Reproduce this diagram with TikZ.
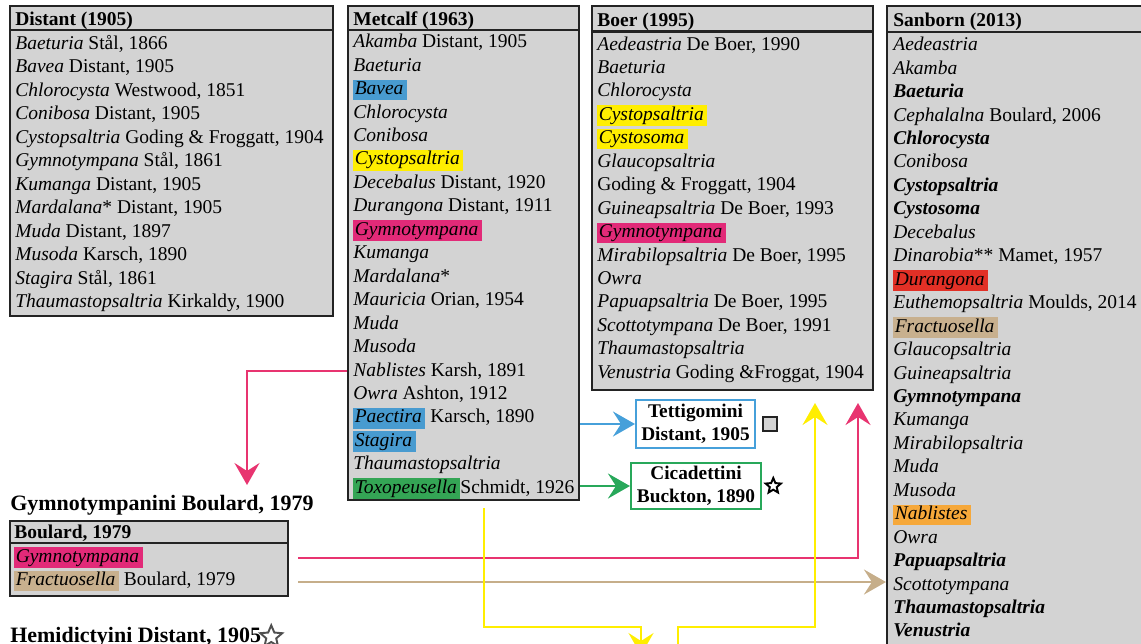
\documentclass[tikz,border=0pt]{standalone}
\usepackage{fontspec}
\setmainfont{Liberation Serif}
\usetikzlibrary{positioning, fit, arrows.meta, shapes.geometric}

\definecolor{cellgray}{RGB}{211,211,211}
\definecolor{frameink}{RGB}{35,35,35}
\definecolor{hlBlue}{RGB}{72,155,208}
\definecolor{hlYellow}{RGB}{255,238,0}
\definecolor{hlPink}{RGB}{226,42,120}
\definecolor{hlGreen}{RGB}{52,165,85}
\definecolor{hlRed}{RGB}{226,48,38}
\definecolor{hlTan}{RGB}{200,176,142}
\definecolor{hlOrange}{RGB}{246,168,58}
\definecolor{lineBlue}{RGB}{70,160,218}
\definecolor{lineGreen}{RGB}{40,168,90}
\definecolor{linePink}{RGB}{232,52,112}
\definecolor{lineTan}{RGB}{198,174,138}
\definecolor{lineYellow}{RGB}{255,238,0}

\newcommand{\hiLite}[2]{{\setlength{\fboxsep}{0.8pt}\colorbox{#1}{\vphantom{Cyl}#2\hspace{1.2pt}}}}

\tikzset{
	tablebox/.style = {draw=frameink, fill=cellgray, line width=1.2pt, inner sep=0pt},
	rule/.style = {draw=frameink, line width=1.2pt},
	entry/.style = {anchor=base west, inner sep=0pt, font=\fontsize{11.1}{13}\selectfont},
	headline/.style = {entry, font=\fontsize{11.1}{13}\selectfont\bfseries},
	tribename/.style = {anchor=base west, inner sep=0pt, font=\fontsize{12.5}{15}\selectfont\bfseries},
	tribe/.style = {draw, line width=1.2pt, fill=white, align=center, inner sep=0pt, font=\fontsize{11}{13}\selectfont\bfseries},
	starmark/.style = {star, star points=5, star point ratio=2.2, draw=black, line width=1.1pt, inner sep=0pt},
	link/.style = {line width=1.4pt, -{Stealth[length=4.4mm, width=5mm, inset=1.6mm]}},
}

\begin{document}
\begin{tikzpicture}[x=0.02cm, y=-0.02cm]
	\clip (0,0) rectangle (1141,643);

	\def\rowSkip{23.45}

	\newcommand{\listRows}[4]
	{
		\foreach \txt [count=\i] in {#4}
			\node [entry] (#1-\i) at (#2, {#3 + (\i-1)*\rowSkip}) {\txt};
	}

	\node [tablebox, fit={(10,6) (333,316)}] (distant) {};
	\node [tablebox, fit={(348,6) (579,500)}] (metcalf) {};
	\node [tablebox, fit={(592,6) (873,390)}] (boer) {};
	\node [tablebox, fit={(887,6) (1150,660)}] (sanborn) {};
	\node [tablebox, fit={(10,521) (288,596)}] (boulard) {};

	\draw [rule] (10,30) -- (333,30);
	\draw [rule] (348,30) -- (579,30);
	\draw [rule] (592,31.5) -- (873,31.5);
	\draw [rule] (887,32) -- (1150,32);
	\draw [rule] (10,543) -- (288,543);

	\node [headline] (distant-head) at (15,25.5) {Distant (1905)};
	\node [headline] (metcalf-head) at (353,25) {Metcalf (1963)};
	\node [headline] (boer-head) at (597,26.5) {Boer (1995)};
	\node [headline] (sanborn-head) at (893,26.7) {Sanborn (2013)};
	\node [headline] (boulard-head) at (14,538) {Boulard, 1979};

	\listRows{dist}{15}{49.5}{
		{\textit{Baeturia} Stål, 1866},
		{\textit{Bavea} Distant, 1905},
		{\textit{Chlorocysta} Westwood, 1851},
		{\textit{Conibosa} Distant, 1905},
		{\textit{Cystopsaltria} Goding \& Froggatt, 1904},
		{\textit{Gymnotympana} Stål, 1861},
		{\textit{Kumanga} Distant, 1905},
		{\textit{Mardalana}* Distant, 1905},
		{\textit{Muda} Distant, 1897},
		{\textit{Musoda} Karsch, 1890},
		{\textit{Stagira} Stål, 1861},
		{\textit{Thaumastopsaltria} Kirkaldy, 1900}}

	\listRows{met}{353}{47.7}{
		{\textit{Akamba} Distant, 1905},
		{\textit{Baeturia}},
		{\hiLite{hlBlue}{\textit{Bavea}}},
		{\textit{Chlorocysta}},
		{\textit{Conibosa}},
		{\hiLite{hlYellow}{\textit{Cystopsaltria}}},
		{\textit{Decebalus} Distant, 1920},
		{\textit{Durangona} Distant, 1911},
		{\hiLite{hlPink}{\textit{Gymnotympana}}},
		{\textit{Kumanga}},
		{\textit{Mardalana}*},
		{\textit{Mauricia} Orian, 1954},
		{\textit{Muda}},
		{\textit{Musoda}},
		{\textit{Nablistes} Karsh, 1891},
		{\textit{Owra} Ashton, 1912},
		{\hiLite{hlBlue}{\textit{Paectira}} Karsch, 1890},
		{\hiLite{hlBlue}{\textit{Stagira}}},
		{\textit{Thaumastopsaltria}},
		{\hiLite{hlGreen}{\textit{Toxopeusella}}Schmidt, 1926}}

	\listRows{boer}{597}{50}{
		{\textit{Aedeastria} De Boer, 1990},
		{\textit{Baeturia}},
		{\textit{Chlorocysta}},
		{\hiLite{hlYellow}{\textit{Cystopsaltria}}},
		{\hiLite{hlYellow}{\textit{Cystosoma}}},
		{\textit{Glaucopsaltria}},
		{Goding \& Froggatt, 1904},
		{\textit{Guineapsaltria} De Boer, 1993},
		{\hiLite{hlPink}{\textit{Gymnotympana}}},
		{\textit{Mirabilopsaltria} De Boer, 1995},
		{\textit{Owra}},
		{\textit{Papuapsaltria} De Boer, 1995},
		{\textit{Scottotympana} De Boer, 1991},
		{\textit{Thaumastopsaltria}},
		{\textit{Venustria} Goding \&Froggat, 1904}}

	\listRows{san}{893}{50.7}{
		{\textit{Aedeastria}},
		{\textit{Akamba}},
		{\textbf{\textit{Baeturia}}},
		{\textit{Cephalalna} Boulard, 2006},
		{\textbf{\textit{Chlorocysta}}},
		{\textit{Conibosa}},
		{\textbf{\textit{Cystopsaltria}}},
		{\textbf{\textit{Cystosoma}}},
		{\textit{Decebalus}},
		{\textit{Dinarobia}** Mamet, 1957},
		{\hiLite{hlRed}{\textit{Durangona}}},
		{\textit{Euthemopsaltria} Moulds, 2014},
		{\hiLite{hlTan}{\textit{Fractuosella}}},
		{\textit{Glaucopsaltria}},
		{\textit{Guineapsaltria}},
		{\textbf{\textit{Gymnotympana}}},
		{\textit{Kumanga}},
		{\textit{Mirabilopsaltria}},
		{\textit{Muda}},
		{\textit{Musoda}},
		{\hiLite{hlOrange}{\textit{Nablistes}}},
		{\textit{Owra}},
		{\textbf{\textit{Papuapsaltria}}},
		{\textit{Scottotympana}},
		{\textbf{\textit{Thaumastopsaltria}}},
		{\textbf{\textit{Venustria}}}}

	\listRows{boul}{14}{562}{
		{\hiLite{hlPink}{\textit{Gymnotympana}}},
		{\hiLite{hlTan}{\textit{Fractuosella}} Boulard, 1979}}

	\node [tribename] (gymno-tribe) at (10,510) {Gymnotympanini Boulard, 1979};
	\node [tribename] (hemi-tribe) at (10,642) {Hemidictyini Distant, 1905};
	\node [starmark, draw=frameink!80, minimum size=0.46cm, right=0.03cm of hemi-tribe.east] (hemi-mark) {};

	\node [tribe, draw=lineBlue, minimum width=2.38cm, minimum height=0.96cm] (tetti) at (695.5,424) {Tettigomini\\Distant, 1905};
	\node [tribe, draw=lineGreen, minimum width=2.6cm, minimum height=0.92cm] (cicad) at (696,486) {Cicadettini\\Buckton, 1890};
	\node [draw=frameink, fill=cellgray, line width=1.3pt, minimum size=0.27cm, inner sep=0pt, right=0.12cm of tetti] (tetti-mark) {};
	\node [starmark, minimum size=0.32cm, right=0.1cm of cicad] (cicad-mark) {};

	\coordinate (pinkDrop) at (247,485);
	\coordinate (pinkRise) at (858,403);
	\coordinate (boulOut) at (298,558);
	\coordinate (tanOut) at (298,582);
	\coordinate (yelOut) at (484,508);
	\coordinate (yelKnee) at (641,627);
	\coordinate (yelDown) at (641,655);
	\coordinate (yelIn) at (678,660);
	\coordinate (yelBend) at (815,627);
	\coordinate (yelUp) at (815,403);

	\begin{scope}[link]
		\draw [lineBlue] (metcalf.east |- tetti.west) -- (tetti.west);
		\draw [lineGreen] (metcalf.east |- cicad.west) -- (cicad.west);
		\draw [linePink] (metcalf.west |- met-15) -| (pinkDrop);
		\draw [linePink] (boulOut) -| (pinkRise);
		\draw [lineTan] (tanOut) -- (sanborn.west |- tanOut);
		\draw [lineYellow] (yelOut) |- (yelKnee) -- (yelDown);
		\draw [lineYellow] (yelIn) |- (yelBend) -- (yelUp);
	\end{scope}

\end{tikzpicture}
\end{document}
